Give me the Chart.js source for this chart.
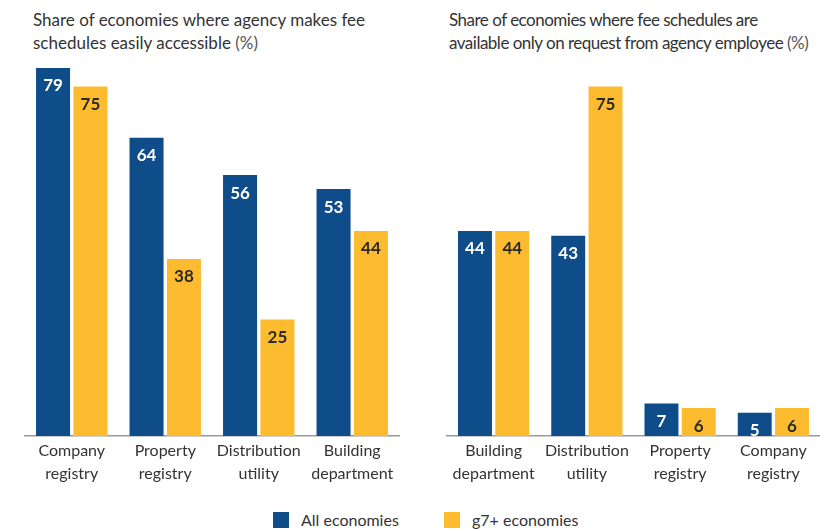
<!DOCTYPE html>
<html>
<head>
<meta charset="utf-8">
<script src="https://cdn.jsdelivr.net/npm/chart.js@4.4.0/dist/chart.umd.min.js"></script>
<style>
  html, body { margin: 0; padding: 0; background: #fff; }
  body { width: 820px; height: 529px; position: relative; overflow: hidden; font-family: Lato, "Open Sans", sans-serif; color: #333; }
  .title { position: absolute; top: 8px; font-size: 17px; line-height: 23px; color: #333; white-space: nowrap; }
  .title .unit { color: #555; }
  .panel { position: absolute; top: 40px; height: 456px; }
  .legend { position: absolute; top: 510px; font-size: 16px; color: #333; display: flex; align-items: center; white-space: nowrap; }
  .swatch { width: 16px; height: 16px; display: inline-block; margin-right: 12px; }
</style>
</head>
<body>
<div class="title" style="left:33px">Share of economies where agency makes fee<br>schedules easily accessible <span class="unit">(%)</span></div>
<div class="title" style="left:449px; letter-spacing:-0.5px">Share of economies where fee schedules are<br>available only on request from agency employee <span class="unit">(%)</span></div>

<div class="panel" style="left:0; width:410px"><canvas id="left"></canvas></div>
<div class="panel" style="left:420px; width:400px"><canvas id="right"></canvas></div>

<div class="legend" style="left:273px"><span class="swatch" style="background:#0f4c8a"></span>All economies</div>
<div class="legend" style="left:444px"><span class="swatch" style="background:#fdbb30"></span>g7+ economies</div>

<script>
// Left panel: fee schedules easily accessible (%)
const accessibleCategories = [["Company", "registry"], ["Property", "registry"], ["Distribution", "utility"], ["Building", "department"]];
const accessibleAll = [79, 64, 56, 53];
const accessibleG7 = [75, 38, 25, 44];

// Right panel: fee schedules only on request (%)
const requestCategories = [["Building", "department"], ["Distribution", "utility"], ["Property", "registry"], ["Company", "registry"]];
const requestAll = [44, 43, 7, 5];
const requestG7 = [44, 75, 6, 6];

const seriesNames = ["All economies", "g7+ economies"];
const BLUE = "#0f4c8a";
const YELLOW = "#fdbb30";

// Writes each bar's value just inside its top edge
const valueLabels = {
  id: "valueLabels",
  afterDatasetsDraw(chart) {
    const ctx = chart.ctx;
    ctx.save();
    ctx.font = "bold 17px Lato, 'Open Sans', sans-serif";
    ctx.textAlign = "center";
    ctx.textBaseline = "middle";
    chart.data.datasets.forEach((ds, di) => {
      const meta = chart.getDatasetMeta(di);
      meta.data.forEach((bar, i) => {
        ctx.fillStyle = di === 0 ? "#ffffff" : "#2a2a2a";
        ctx.fillText(String(ds.data[i]), bar.x, bar.y + 18);
      });
    });
    ctx.restore();
  }
};

function makeChart(id, labels, allVals, g7Vals, padLeft, padRight) {
  return new Chart(document.getElementById(id), {
    type: "bar",
    data: {
      labels: labels,
      datasets: [
        { label: seriesNames[0], data: allVals, backgroundColor: BLUE },
        { label: seriesNames[1], data: g7Vals, backgroundColor: YELLOW }
      ]
    },
    options: {
      responsive: true,
      maintainAspectRatio: false,
      animation: false,
      events: [],
      layout: { padding: { left: padLeft, right: padRight, top: 0, bottom: 0 } },
      datasets: { bar: { categoryPercentage: 0.8, barPercentage: 0.91 } },
      plugins: { legend: { display: false }, tooltip: { enabled: false }, title: { display: false } },
      scales: {
        y: { display: false, min: 0, max: 85 },
        x: {
          grid: { display: false, drawTicks: false },
          border: { display: true, color: "#9a9a9a", width: 1.5 },
          ticks: {
            color: "#333",
            padding: 4,
            maxRotation: 0,
            autoSkip: false,
            font: { family: "Lato, 'Open Sans', sans-serif", size: 16, lineHeight: 1.4 }
          },
          afterFit(scale) { scale.height = 60; }
        }
      }
    },
    plugins: [valueLabels]
  });
}

makeChart("left", accessibleCategories, accessibleAll, accessibleG7, 25, 11);
makeChart("right", requestCategories, requestAll, requestG7, 27, 0);
</script>
</body>
</html>
